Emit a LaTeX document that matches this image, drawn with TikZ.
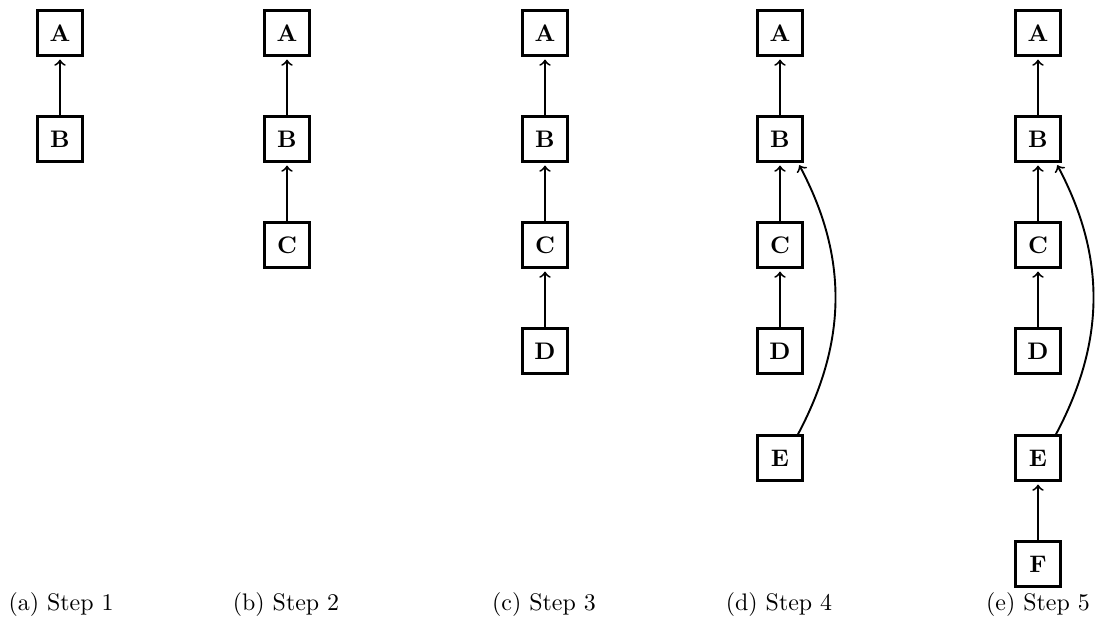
\documentclass[tikz,border=0pt]{standalone}
\begin{document}
\begin{tikzpicture}[x=0.418pt,y=-0.418pt,
  box/.style={draw,line width=1pt,minimum size=18.8pt,inner sep=0pt,font=\bfseries},
  arr/.style={->,line width=0.8pt,shorten >=1.2pt},
  captext/.style={font=\normalsize,inner sep=0pt,anchor=base}]
\useasboundingbox (0,0) rectangle (1119,631);
% column 1
\node[box] (A1) at (60,33) {A};
\node[box] (B1) at (60,139) {B};
\draw[arr] (B1) -- (A1);
\node[captext] (c1) at (61,610) {(a) Step 1};
% column 2
\node[box] (A2) at (287,33) {A};
\node[box] (B2) at (287,139) {B};
\node[box] (C2) at (287,245) {C};
\draw[arr] (B2) -- (A2);
\draw[arr] (C2) -- (B2);
\node[captext] (c2) at (286,610) {(b) Step 2};
% column 3
\node[box] (A3) at (545,33) {A};
\node[box] (B3) at (545,139) {B};
\node[box] (C3) at (545,245) {C};
\node[box] (D3) at (545,351) {D};
\draw[arr] (B3) -- (A3);
\draw[arr] (C3) -- (B3);
\draw[arr] (D3) -- (C3);
\node[captext] (c3) at (544,610) {(c) Step 3};
% column 4
\node[box] (A4) at (780,33) {A};
\node[box] (B4) at (780,139) {B};
\node[box] (C4) at (780,245) {C};
\node[box] (D4) at (780,351) {D};
\node[box] (E4) at (780,458) {E};
\draw[arr] (B4) -- (A4);
\draw[arr] (C4) -- (B4);
\draw[arr] (D4) -- (C4);
\draw[arr] ([xshift=-2.4pt]E4.north east) to[bend right=28] ([xshift=-2.4pt]B4.south east);
\node[captext] (c4) at (779,610) {(d) Step 4};
% column 5
\node[box] (A5) at (1038,33) {A};
\node[box] (B5) at (1038,139) {B};
\node[box] (C5) at (1038,245) {C};
\node[box] (D5) at (1038,351) {D};
\node[box] (E5) at (1038,458) {E};
\node[box] (F5) at (1038,564) {F};
\draw[arr] (B5) -- (A5);
\draw[arr] (C5) -- (B5);
\draw[arr] (D5) -- (C5);
\draw[arr] (F5) -- (E5);
\draw[arr] ([xshift=-2.4pt]E5.north east) to[bend right=28] ([xshift=-2.4pt]B5.south east);
\node[captext] (c5) at (1038,610) {(e) Step 5};
\end{tikzpicture}
\end{document}
